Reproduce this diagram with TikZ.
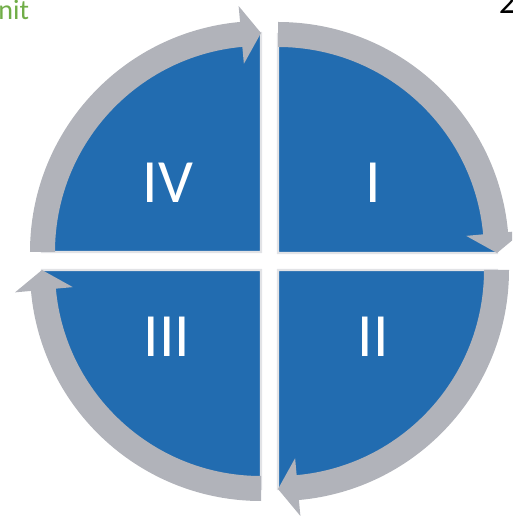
\documentclass[tikz,border=0pt]{standalone}
\usepackage{fontspec}
\setmainfont{Carlito}
\definecolor{qblue}{RGB}{34,108,176}
\definecolor{cyclegray}{RGB}{177,179,186}
\definecolor{edgegray}{RGB}{226,227,230}
\definecolor{unitgreen}{RGB}{112,173,71}

\begin{document}
\begin{tikzpicture}[x=0.02cm,y=0.02cm,
  quadrant/.style={fill=qblue,draw=edgegray,line width=1.2pt},
  cyclearrow/.style={fill=cyclegray},
  numeral/.style={text=white,font=\fontsize{35}{40}\selectfont,inner sep=0pt}]
  \useasboundingbox (-269.5,-255) rectangle (242.5,261);
  \clip (-269.5,-255) rectangle (242.5,261);
  % quadrants and their arrows: IV first, then clockwise
  \foreach \cx/\cy/\rot in {-8.5/9/0, 8.5/8/-90, 8.5/-9/-180, -8.5/-9/-270} {
    \begin{scope}[shift={(\cx,\cy)},rotate=\rot]
      \draw[quadrant] (0,0) -- (180:219) arc[start angle=180,end angle=90,radius=219] -- cycle;
      \fill[cyclearrow] (180:231) arc[start angle=180,end angle=95.2,radius=231]
        -- (95.2:247) -- (90:219) -- (95.2:189) -- (95.2:206)
        arc[start angle=95.2,end angle=180,radius=206] -- cycle;
    \end{scope}
  }
  \node[numeral] (q4) at (-101.5,78) {IV};
  \node[numeral] (q1) at (103.5,78) {I};
  \node[numeral] (q2) at (103.5,-76) {II};
  \node[numeral] (q3) at (-102.5,-76) {III};
  % cut-off texts at the top corners
  \node[text=unitgreen,font=\fontsize{16}{19}\selectfont,anchor=base west,inner sep=0pt] (unit) at (-271.5,241) {nit};
  \node[font=\fontsize{20}{24}\selectfont,anchor=base west,inner sep=0pt] (page) at (229,247) {2};
\end{tikzpicture}
\end{document}
